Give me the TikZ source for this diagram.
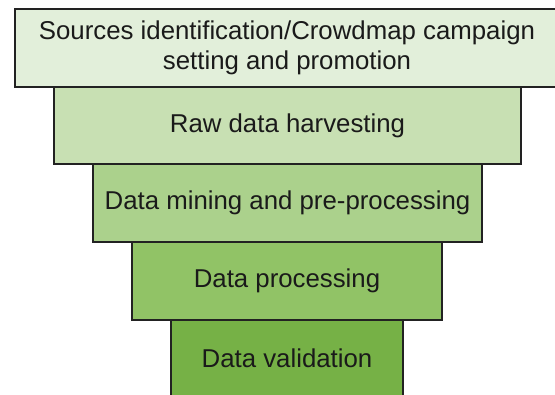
\documentclass[tikz,border=0pt]{standalone}
\usepackage{fontspec}
\setmainfont{Liberation Sans}
\definecolor{stageA}{HTML}{E2EFDA}
\definecolor{stageB}{HTML}{C8E0B3}
\definecolor{stageC}{HTML}{ABD18C}
\definecolor{stageD}{HTML}{91C366}
\definecolor{stageE}{HTML}{76B146}
\definecolor{edge}{HTML}{222222}
\definecolor{ink}{HTML}{1A1A1A}
\tikzset{
  stagebox/.style={draw=edge, line width=1.4pt, rectangle, inner sep=0pt,
    text=ink, align=center, font=\fontsize{25.8}{30.5}\selectfont},
}
\begin{document}
\begin{tikzpicture}[x=1pt, y=-1pt]
  \useasboundingbox (0,0) rectangle (555,395);
  \clip (0,0) rectangle (555,395);
  \fill[white] (0,0) rectangle (555,395);
  \node[stagebox, fill=stageA, minimum width=544pt, minimum height=78pt] (s1) at (287,48)
    {Sources identification/Crowdmap campaign\\setting and promotion};
  \node[stagebox, fill=stageB, minimum width=467pt, minimum height=77pt] (s2) at (287.5,125.5)
    {Raw data harvesting};
  \node[stagebox, fill=stageC, minimum width=389pt, minimum height=78pt] (s3) at (287.5,203)
    {Data mining and pre-processing};
  \node[stagebox, fill=stageD, minimum width=310pt, minimum height=78pt] (s4) at (287,281)
    {Data processing};
  % the last stage runs past the lower edge of the page
  \node[stagebox, fill=stageE, minimum width=232pt, minimum height=82pt] (s5) at (287,361)
    {\raisebox{5pt}{Data validation}};
\end{tikzpicture}
\end{document}
